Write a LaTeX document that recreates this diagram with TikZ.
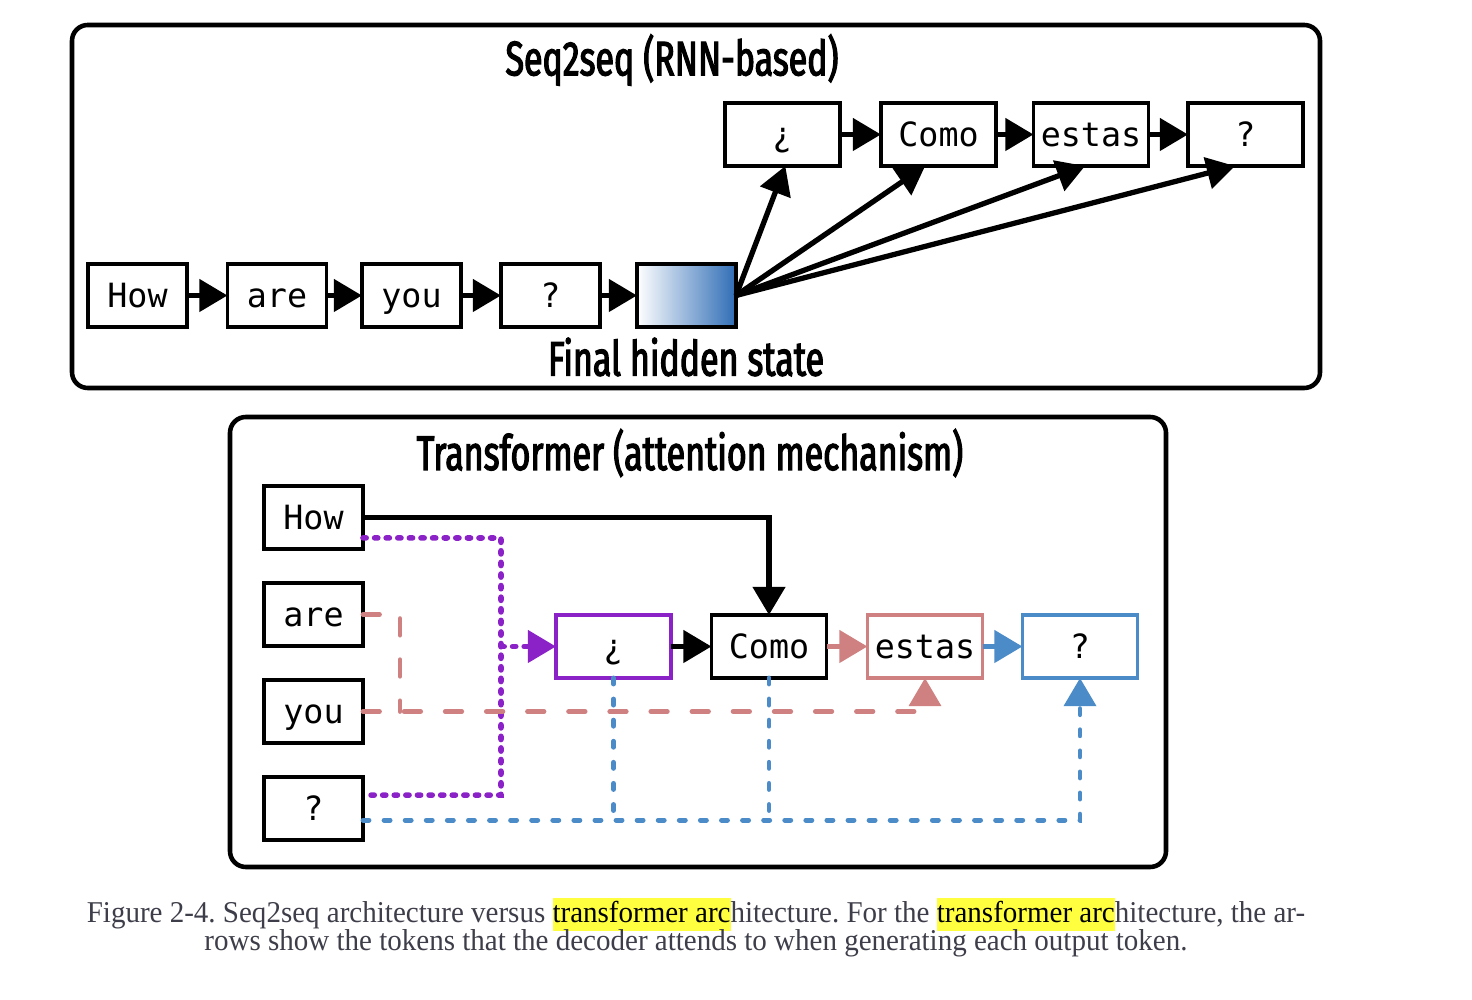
\documentclass[tikz,border=0pt]{standalone}
\usepackage{fontspec}
\setmainfont{Liberation Serif}
\newfontfamily\tokfont{DejaVu Sans Mono}
\newfontfamily\headfont[FakeStretch=0.7, FakeBold=2.5]{Fira Sans}
\newfontfamily\capfont[FakeStretch=0.96]{Liberation Serif}
\usetikzlibrary{arrows.meta,calc}

\definecolor{attpurple}{HTML}{8A22C8}
\definecolor{attpink}{HTML}{CF8080}
\definecolor{attblue}{HTML}{4A8BC8}
\definecolor{hidblue}{HTML}{2F6DB5}
\definecolor{capgray}{HTML}{3E3E4A}
\definecolor{marker}{HTML}{FFFF40}

\tikzset{every node/.style={inner sep=0pt, outer sep=0pt}}
\newcommand{\hilite}[1]{{\setlength{\fboxsep}{0pt}\colorbox{marker}{\rule[-2.3pt]{0pt}{9.4pt}\textcolor{black}{#1}}}}

\begin{document}
\begin{tikzpicture}[x=1cm, y=-1cm,
			tok/.style={rectangle, draw, line width=1.1pt, minimum width=0.99cm, minimum height=0.63cm, text height=8.5pt, text depth=1.5pt, font=\tokfont\fontsize{9.5}{11}\selectfont},
			outtok/.style={tok, minimum width=1.15cm},
			head/.style={font=\headfont\fontsize{13.8}{16}\selectfont},
			frame/.style={line width=1.3pt, rounded corners=4.5pt},
			arr/.style={line width=1.6pt, -{Triangle[length=8pt,width=9pt]}},
			purpdot/.style={attpurple, line width=1.6pt, line cap=round, dash pattern=on 0.9pt off 2.4pt},
			pinkdash/.style={attpink, line width=1.35pt, line cap=round, dash pattern=on 4.7pt off 7pt},
			bluedash/.style={attblue, line width=1.4pt, line cap=round, dash pattern=on 1.7pt off 4.3pt},
			]
			\useasboundingbox (0,0) rectangle (14.72,10);
			
			% Seq2seq frame and title
			\draw[frame] (0.72,0.25) rectangle (13.2,3.88);
			\node[head] (rnntitle) at (6.72,0.6) {Seq2seq (RNN-based)};
			
			% Encoder tokens
			\foreach \w/\x [count=\n] in {How/1.375,are/2.77,you/4.115,?/5.505} {
				\node[tok] (tin\n) at (\x,2.955) {\w};
			}
			\node[tok, left color=white, right color=hidblue] (hid) at (6.865,2.955) {};
			\node[head] (hidlabel) at (6.86,3.57) {Final hidden state};
			
			% Decoder tokens
			\foreach \w/\x [count=\n] in {¿/7.825,Como/9.385,estas/10.91,?/12.455} {
				\node[outtok] (tout\n) at (\x,1.345) {\w};
			}
			
			% Recurrent connections
			\foreach \i in {1,...,3} {
				\draw[arr] (tin\i) -- (tin\the\numexpr\i+1\relax);
				\draw[arr] (tout\i) -- (tout\the\numexpr\i+1\relax);
			}
			\draw[arr] (tin4) -- (hid);
			
			% Hidden state feeds every output
			\foreach \i/\s in {1/0.8pt,2/-3.8pt,3/-1.7pt,4/-3pt} {
				\draw[arr, line width=1.5pt] (hid.east) -- ([xshift=\s]tout\i.south);
			}
			
			% Transformer frame and title
			\draw[frame] (2.3,4.17) rectangle (11.66,8.67);
			\node[head] (trftitle) at (6.9,4.53) {Transformer (attention mechanism)};
			
			% Input tokens
			\foreach \w/\y [count=\n] in {How/5.175,are/6.145,you/7.115,?/8.085} {
				\node[tok] (bin\n) at (3.135,\y) {\w};
			}
			
			% Output tokens
			\node[outtok, draw=attpurple] (bout1) at (6.135,6.465) {¿};
			\node[outtok] (bout2) at (7.69,6.465) {Como};
			\node[outtok, draw=attpink] (bout3) at (9.25,6.465) {estas};
			\node[outtok, draw=attblue] (bout4) at (10.8,6.465) {?};
			
			\draw[arr] (bout1) -- (bout2);
			\draw[arr, attpink] (bout2) -- (bout3);
			\draw[arr, attblue] (bout3) -- (bout4);
			
			% Attention to the inputs
			\draw[arr] (bin1.east) -| (bout2.north);
			
			\coordinate (hp) at ([yshift=-5.8pt]bin1.east);
			\coordinate (qp) at ([yshift=3.8pt]bin4.east);
			\coordinate (pv) at (5.01,5.38);
			\draw[purpdot] (hp) -- (pv) |- (qp);
			\draw[purpdot, -{Triangle[length=8pt,width=9pt]}] (pv |- bout1.west) -- (bout1.west);
			
			\coordinate (pk) at (4.0,6.145);
			\draw[pinkdash] (bin2.east) -- (pk) -- (pk |- bin3.east);
			\draw[pinkdash, -{Triangle[length=8pt,width=9pt]}] (bin3.east) -| (bout3.south);
			
			\coordinate (qb) at ([yshift=-3.3pt]bin4.east);
			\draw[bluedash, -{Triangle[length=8pt,width=9pt]}] (qb) -| (bout4.south);
			\draw[bluedash] (bout1.south) -- (bout1.south |- qb);
			\draw[bluedash] (bout2.south) -- (bout2.south |- qb);
			
			% Caption
			\node[font=\capfont\fontsize{8.6}{7.7}\selectfont\frenchspacing, text=capgray, align=center] (cap) at (6.96,9.275)
			{\setlength{\lineskiplimit}{-6pt}Figure 2-4. Seq2seq architecture versus \hilite{transformer arc}hitecture. For the \hilite{transformer arc}hitecture, the ar-\\[-1.4pt]rows show the tokens that the decoder attends to when generating each output token.};
			
		\end{tikzpicture}
\end{document}
